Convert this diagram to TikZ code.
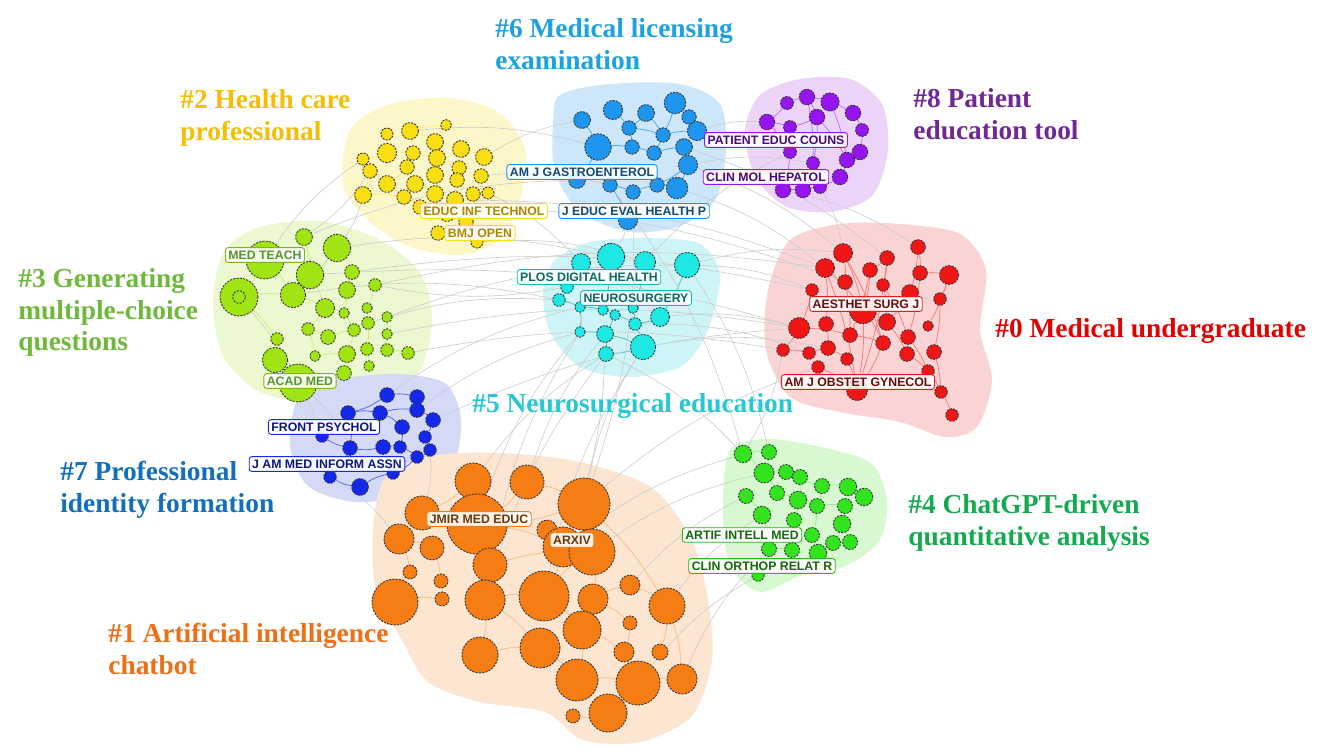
\documentclass[tikz,border=0pt]{standalone}
\usepackage{fontspec}
\setmainfont{Liberation Serif}
\newfontfamily\lblfont{Liberation Sans}
\usepackage{tikz}
\usetikzlibrary{positioning}

\pgfdeclarelayer{blob}
\pgfdeclarelayer{edge}
\pgfsetlayers{blob,edge,main}

% cluster colours
\definecolor{rdfill}{RGB}{240,22,22}   \definecolor{rdbg}{RGB}{250,212,212} \definecolor{rdtxt}{RGB}{226,0,0}
\definecolor{orfill}{RGB}{245,125,20}  \definecolor{orbg}{RGB}{252,230,210} \definecolor{ortxt}{RGB}{240,110,20}
\definecolor{yefill}{RGB}{250,222,20}  \definecolor{yebg}{RGB}{252,247,200} \definecolor{yetxt}{RGB}{245,190,0}
\definecolor{lgfill}{RGB}{160,228,20}  \definecolor{lgbg}{RGB}{236,248,208} \definecolor{lgtxt}{RGB}{110,185,60}
\definecolor{grfill}{RGB}{50,228,30}   \definecolor{grbg}{RGB}{216,248,210} \definecolor{grtxt}{RGB}{20,170,80}
\definecolor{cyfill}{RGB}{30,232,228}  \definecolor{cybg}{RGB}{205,245,248} \definecolor{cytxt}{RGB}{40,200,210}
\definecolor{blfill}{RGB}{30,150,240}  \definecolor{blbg}{RGB}{205,230,250} \definecolor{bltxt}{RGB}{30,160,225}
\definecolor{nvfill}{RGB}{20,40,235}   \definecolor{nvbg}{RGB}{212,218,246} \definecolor{nvtxt}{RGB}{20,110,190}
\definecolor{pufill}{RGB}{150,20,240}  \definecolor{pubg}{RGB}{236,212,248} \definecolor{putxt}{RGB}{112,40,150}

\tikzset{
  nd/.style={circle, inner sep=0pt, draw=black!80, dash pattern=on 1.2pt off 0.7pt, line width=0.5pt},
  link/.style={gray!40, line width=0.35pt},
  inlink/.style={#1, line width=0.45pt},
  jlabel/.style 2 args={rounded corners=1.5pt, fill=white, fill opacity=0.9, text opacity=1,
    draw=#1, text=#2, line width=0.5pt, inner sep=1.7pt,
    font=\lblfont\bfseries\fontsize{7}{7.2}\selectfont},
  title/.style={anchor=north west, inner sep=0pt, align=left, text=#1,
    font=\fontsize{15.6}{18}\selectfont\bfseries},
}

\begin{document}
\begin{tikzpicture}[x=0.02cm, y=-0.02cm]
\useasboundingbox (0,0) rectangle (1325,748);

% ---- background blobs
\begin{pgfonlayer}{blob}
  \fill[yebg] plot[smooth cycle] coordinates {(350,130) (390,104) (450,98) (500,113) (525,150) (520,200) (500,240) (460,255) (410,247) (370,222) (343,185)};
  \fill[blbg] plot[smooth cycle] coordinates {(560,95) (610,84) (680,84) (720,104) (726,150) (715,200) (680,226) (630,232) (580,212) (555,172) (553,125)};
  \fill[pubg] plot[smooth cycle] coordinates {(760,95) (800,79) (850,79) (882,104) (888,150) (872,196) (830,212) (785,206) (755,176) (745,130)};
  \fill[lgbg] plot[smooth cycle] coordinates {(225,250) (260,227) (320,221) (380,240) (420,273) (432,320) (420,370) (380,402) (320,404) (260,392) (223,356) (213,300)};
  \fill[cybg] plot[smooth cycle] coordinates {(555,260) (590,242) (650,238) (700,244) (720,275) (708,330) (682,366) (630,377) (580,367) (550,332) (543,290)};
  \fill[rdbg] plot[smooth cycle] coordinates {(790,240) (840,224) (900,224) (960,234) (986,270) (980,330) (992,380) (977,427) (945,437) (900,422) (840,412) (790,397) (766,350) (768,290)};
  \fill[nvbg] plot[smooth cycle] coordinates {(300,394) (340,379) (400,374) (446,384) (461,420) (452,466) (410,494) (355,502) (308,486) (290,445)};
  \fill[grbg] plot[smooth cycle] coordinates {(730,450) (770,439) (830,449) (872,464) (887,500) (880,540) (846,566) (800,576) (760,592) (730,566) (723,510)};
  \fill[orbg] plot[smooth cycle] coordinates {(385,478) (430,456) (500,453) (580,462) (652,488) (692,540) (708,600) (712,660) (692,716) (640,742) (583,740) (545,712) (480,702) (428,682) (402,640) (376,590) (373,530)};
\end{pgfonlayer}

% ---- #0 red
\foreach \n/\x/\y/\r in {1/843/253/9, 2/825/268/9, 3/887/258/7, 4/918/247/7, 5/870/270/7, 6/920/273/7, 7/949/275/9, 8/845/282/7, 9/883/285/6, 10/910/293/8, 11/812/290/6, 12/940/299/6, 13/863/310/13, 14/887/322/8, 15/799/328/10, 16/826/324/7, 17/850/335/7, 18/908/337/7, 19/928/326/5, 20/783/350/6, 21/809/353/6, 22/828/348/7, 23/847/359/6, 24/883/343/7, 25/907/354/7, 26/934/352/7, 27/818/367/6, 28/928/371/6, 29/857/390/10, 30/941/392/6, 31/952/415/6}
  \node[nd, fill=rdfill, minimum size=\r*0.042cm] (rd\n) at (\x,\y) {};

% ---- #1 orange
\foreach \n/\x/\y/\r in {1/473/481/18, 2/527/482/17, 3/584/504/26, 4/422/513/17, 5/477/524/30, 6/547/530/10, 7/399/539/15, 8/432/548/12, 9/563/547/20, 10/592/552/23, 11/490/565/17, 12/410/572/7, 13/441/581/7, 14/442/599/7, 15/395/602/23, 16/485/600/20, 17/544/596/25, 18/593/599/15, 19/630/585/10, 20/667/606/18, 21/582/630/19, 22/630/623/7, 23/480/655/18, 24/540/648/20, 25/624/652/10, 26/660/652/8, 27/577/680/21, 28/638/683/22, 29/682/679/15, 30/608/713/19, 31/573/716/7}
  \node[nd, fill=orfill, minimum size=\r*0.04cm] (or\n) at (\x,\y) {};

% ---- #2 yellow
\foreach \n/\x/\y/\r in {1/387/134/5, 2/410/131/7, 3/446/125/4.5, 4/387/153/8, 5/413/153/6, 6/435/142/7, 7/461/149/7, 8/484/157/7, 9/363/159/5, 10/437/158/7, 11/407/167/6, 12/370/171/6, 13/459/168/6, 14/435/175/7, 15/387/184/7, 16/415/184/7, 17/457/180/6, 18/481/176/6, 19/363/195/7, 20/404/197/6, 21/435/194/7, 22/455/200/7, 23/473/194/6, 24/488/193/5, 25/420/207/6, 26/438/233/6, 27/477/242/5, 28/447/213/7, 29/466/222/6}
  \node[nd, fill=yefill, minimum size=\r*0.048cm] (ye\n) at (\x,\y) {};

% ---- #3 yellow-green
\foreach \n/\x/\y/\r in {1/304/237/8, 2/337/248/13, 3/265/260/18, 4/310/275/13, 5/239/297/18, 6/293/295/12, 7/352/272/7, 8/347/290/8, 9/375/285/6, 10/325/308/9, 11/344/313/5, 12/367/308/5, 13/387/317/5, 14/308/329/6, 15/328/337/7, 16/354/330/6, 17/368/323/6, 18/387/334/5, 19/277/339/6, 20/275/360/12, 21/315/356/5, 22/347/354/8, 23/367/349/6, 24/387/350/6, 25/408/353/6, 26/369/366/5, 27/344/373/7, 28/298/383/18}
  \node[nd, fill=lgfill, minimum size=\r*0.042cm] (lg\n) at (\x,\y) {};
\node[nd, minimum size=6*0.042cm] (lgring) at (lg5) {};

% ---- #4 green
\foreach \n/\x/\y/\r in {1/743/454/7, 2/769/452/6, 3/764/473/8, 4/786/472/6, 5/800/477/6, 6/746/496/6, 7/777/493/6, 8/798/500/7, 9/822/486/6, 10/848/487/7, 11/864/497/7, 12/817/506/6, 13/845/506/6, 14/762/515/7, 15/794/520/6, 16/842/524/7, 17/812/535/6, 18/833/543/6, 19/850/542/6, 20/769/549/6, 21/792/550/6, 22/818/553/7, 23/758/575/5}
  \node[nd, fill=grfill, minimum size=\r*0.05cm] (gr\n) at (\x,\y) {};

% ---- #5 cyan
\foreach \n/\x/\y/\r in {1/581/263/9, 2/611/257/13, 3/645/262/10, 4/687/265/12, 5/567/287/6, 6/559/300/6, 7/580/307/5, 8/603/310/5, 9/615/315/5, 10/633/308/5, 11/660/317/9, 12/635/324/6, 13/580/332/5, 14/605/334/8, 15/643/347/12, 16/606/354/7}
  \node[nd, fill=cyfill, minimum size=\r*0.042cm] (cy\n) at (\x,\y) {};

% ---- #6 light blue
\foreach \n/\x/\y/\r in {1/582/120/7, 2/613/110/8, 3/646/113/7, 4/675/103/9, 5/689/117/6, 6/629/128/6, 7/598/147/11, 8/663/135/6, 9/697/131/8, 10/632/147/6, 11/654/153/6, 12/684/147/7, 13/688/165/8, 14/610/185/6, 15/633/192/6, 16/657/185/6, 17/677/188/9, 18/577/180/7, 19/628/220/8}
  \node[nd, fill=blfill, minimum size=\r*0.048cm] (bl\n) at (\x,\y) {};

% ---- #7 navy
\foreach \n/\x/\y/\r in {1/387/395/7, 2/417/397/7, 3/348/413/7, 4/380/413/7, 5/417/410/7, 6/433/420/7, 7/402/427/7, 8/425/437/6, 9/383/447/7, 10/400/447/6, 11/430/450/6, 12/417/457/6, 13/350/448/7, 14/322/436/6, 15/360/487/8, 16/330/477/6, 17/393/473/6}
  \node[nd, fill=nvfill, minimum size=\r*0.042cm] (nv\n) at (\x,\y) {};

% ---- #8 purple
\foreach \n/\x/\y/\r in {1/787/103/5, 2/807/97/6, 3/830/102/7, 4/853/113/6, 5/817/117/6, 6/767/122/6, 7/862/130/5, 8/790/127/5, 9/860/152/6, 10/847/160/6, 11/813/163/5, 12/790/152/5, 13/840/177/6, 14/783/190/6, 15/803/190/6, 16/820/187/5}
  \node[nd, fill=pufill, minimum size=\r*0.052cm] (pu\n) at (\x,\y) {};

% ---- links
\begin{pgfonlayer}{edge}
  \foreach \a/\b in {1/13, 1/8, 2/16, 2/13, 3/5, 3/9, 4/6, 4/10, 6/7, 7/12, 7/19, 5/13, 8/17, 9/14, 10/14, 11/15, 12/26, 13/24, 13/29, 14/25, 15/20, 15/17, 16/22, 17/24, 18/28, 20/21, 21/22, 22/23, 23/29, 24/29, 25/28, 26/30, 27/29, 28/30, 30/31, 2/29, 1/24, 9/18, 6/18, 5/17, 3/29}
    \draw[inlink=rdfill!55] (rd\a) to[bend left=6] (rd\b);
  \foreach \a/\b in {1/5, 2/5, 3/5, 3/10, 4/7, 4/5, 5/11, 5/9, 7/8, 7/12, 8/13, 11/16, 11/10, 15/14, 13/14, 15/12, 16/23, 16/24, 17/10, 17/21, 18/19, 18/22, 19/20, 20/26, 21/27, 21/25, 24/27, 27/28, 28/29, 28/30, 30/31, 22/25, 23/24, 10/18, 3/20, 9/17, 16/17, 2/3, 20/29, 1/4, 25/28}
    \draw[inlink=orfill!50] (or\a) to[bend left=8] (or\b);
  \foreach \a/\b in {1/4, 2/6, 3/6, 4/5, 5/10, 6/10, 7/13, 8/18, 9/12, 10/14, 11/15, 12/19, 13/17, 14/21, 15/20, 16/21, 17/22, 18/23, 19/20, 20/25, 21/22, 22/28, 25/26, 23/24, 26/27, 4/9, 2/3, 7/8, 16/11}
    \draw[inlink=yefill!60] (ye\a) to[bend left=6] (ye\b);
  \foreach \a/\b in {1/4, 2/4, 3/6, 4/6, 5/6, 4/10, 6/10, 7/8, 8/11, 9/12, 10/11, 10/14, 11/16, 12/17, 13/18, 14/15, 15/16, 16/22, 17/23, 18/24, 19/20, 20/28, 21/22, 22/27, 23/26, 24/25, 27/28, 5/19, 3/5, 14/21}
    \draw[inlink=lgfill!55] (lg\a) to[bend left=6] (lg\b);
  \foreach \a/\b in {1/2, 1/3, 3/4, 4/5, 2/3, 5/8, 3/7, 7/8, 8/12, 9/10, 10/11, 9/12, 12/13, 13/16, 16/18, 18/19, 12/17, 17/22, 15/21, 20/21, 14/20, 6/14, 20/23, 8/15, 9/5}
    \draw[inlink=grfill!50] (gr\a) to[bend left=8] (gr\b);
  \foreach \a/\b in {1/5, 2/8, 3/10, 4/11, 5/6, 6/7, 7/8, 8/9, 9/12, 10/12, 11/12, 12/15, 13/14, 14/15, 14/16, 15/16, 9/14, 7/13}
    \draw[inlink=cyfill!70!black!70] (cy\a) to[bend left=6] (cy\b);
  \foreach \a/\b in {1/7, 2/6, 3/6, 4/8, 5/9, 6/8, 6/10, 7/10, 8/9, 8/11, 10/11, 11/12, 12/13, 13/16, 14/15, 15/16, 16/17, 7/18, 14/19, 4/5, 3/8, 13/17}
    \draw[inlink=blfill!80] (bl\a) to[bend left=6] (bl\b);
  \foreach \a/\b in {1/2, 1/3, 3/4, 2/5, 5/6, 4/7, 6/8, 7/10, 8/11, 9/10, 10/12, 11/12, 3/13, 13/14, 13/16, 15/16, 15/17, 9/13, 4/5, 12/17}
    \draw[inlink=nvfill!70] (nv\a) to[bend left=10] (nv\b);
  \foreach \a/\b in {1/2, 2/3, 3/4, 4/7, 2/5, 5/8, 1/6, 6/8, 5/11, 8/12, 3/10, 7/9, 9/10, 10/13, 11/16, 12/14, 14/15, 15/16, 13/16, 5/10, 2/11, 6/12}
    \draw[inlink=pufill!60] (pu\a) to[bend left=6] (pu\b);
  % between clusters
  \foreach \a/\b in {ye8/bl1, ye24/cy1, lg2/cy2, lg13/cy4, lg9/rd2, lg18/rd15, cy4/rd1, cy4/rd11, bl13/rd1, bl17/rd2, cy11/rd15, cy15/rd22, or3/cy15, or5/cy13, or10/gr3, or9/gr1, or20/gr14, or17/cy15, or16/cy16, or1/cy16, or2/cy14, nv1/cy7, nv5/cy13, nv11/or4, nv16/or7, ye19/lg2, ye12/lg1, lg5/nv14, lg28/nv13, cy3/pu12, bl9/pu6, bl13/pu11, pu14/rd4, pu16/rd1, cy4/gr2, rd20/gr1, or3/rd27, ye22/rd2, lg7/rd11, bl19/cy2, ye27/cy3, lg25/rd20, nv6/rd15, ye2/bl7, lg3/ye9, lg1/bl18, cy5/lg9, or28/gr23, or29/gr20, or19/gr6, cy16/gr1, cy12/rd21, bl12/rd3, ye18/bl14, lg17/cy6, or11/cy13, lg4/rd15, lg6/cy6, ye25/rd8, bl14/gr1, bl15/or3, cy14/or9}
    \draw[link] (\a) to[bend left=10] (\b);
\end{pgfonlayer}

% ---- journal labels
\node[jlabel={yefill}{yetxt!70!black}] (educinf) at (484,211) {EDUC INF TECHNOL};
\node[jlabel={yefill}{yetxt!70!black}] (bmj) at (480,233) {BMJ OPEN};
\node[jlabel={blfill}{blfill!50!black}] (amjg) at (582,172) {AM J GASTROENTEROL};
\node[jlabel={blfill}{blfill!50!black}] (jeduc) at (634,211) {J EDUC EVAL HEALTH P};
\node[jlabel={pufill}{pufill!50!black}] (patient) at (776,140) {PATIENT EDUC COUNS};
\node[jlabel={pufill}{pufill!50!black}] (clinmol) at (766,177) {CLIN MOL HEPATOL};
\node[jlabel={lgfill!80!black}{lgtxt!80!black}] (medteach) at (265,255) {MED TEACH};
\node[jlabel={lgfill!80!black}{lgtxt!80!black}] (acadmed) at (300,381) {ACAD MED};
\node[jlabel={cyfill!80!black}{cyfill!45!black}] (plos) at (589,277) {PLOS DIGITAL HEALTH};
\node[jlabel={cyfill!80!black}{cyfill!45!black}] (neuro) at (636,298) {NEUROSURGERY};
\node[jlabel={rdfill}{rdfill!45!black}] (aesthet) at (866,304) {AESTHET SURG J};
\node[jlabel={rdfill}{rdfill!45!black}] (obstet) at (858,382) {AM J OBSTET GYNECOL};
\node[jlabel={nvfill}{nvfill!55!black}] (frontp) at (324,427) {FRONT PSYCHOL};
\node[jlabel={nvfill}{nvfill!55!black}] (jammed) at (327,464) {J AM MED INFORM ASSN};
\node[jlabel={grfill!80!black}{grfill!45!black}] (artif) at (742,535) {ARTIF INTELL MED};
\node[jlabel={grfill!80!black}{grfill!45!black}] (clinorth) at (762,566) {CLIN ORTHOP RELAT R};
\node[jlabel={orfill}{orfill!45!black}] (jmir) at (479,519) {JMIR MED EDUC};
\node[jlabel={orfill}{orfill!45!black}] (arxiv) at (572,540) {ARXIV};

% ---- cluster titles
\node[title=bltxt] (t6) at (495,18) {\#6 Medical licensing\\examination};
\node[title=yetxt] (t2) at (180,89) {\#2 Health care\\professional};
\node[title=putxt] (t8) at (913,88) {\#8 Patient\\education tool};
\node[title=lgtxt] (t3) at (18,268) {\#3 Generating\\multiple-choice\\questions};
\node[title=rdtxt] (t0) at (995,318) {\#0 Medical undergraduate};
\node[title=cytxt] (t5) at (472,393) {\#5 Neurosurgical education};
\node[title=nvtxt] (t7) at (60,461) {\#7 Professional\\identity formation};
\node[title=grtxt] (t4) at (908,494) {\#4 ChatGPT-driven\\quantitative analysis};
\node[title=ortxt] (t1) at (108,623) {\#1 Artificial intelligence\\chatbot};
\end{tikzpicture}
\end{document}
